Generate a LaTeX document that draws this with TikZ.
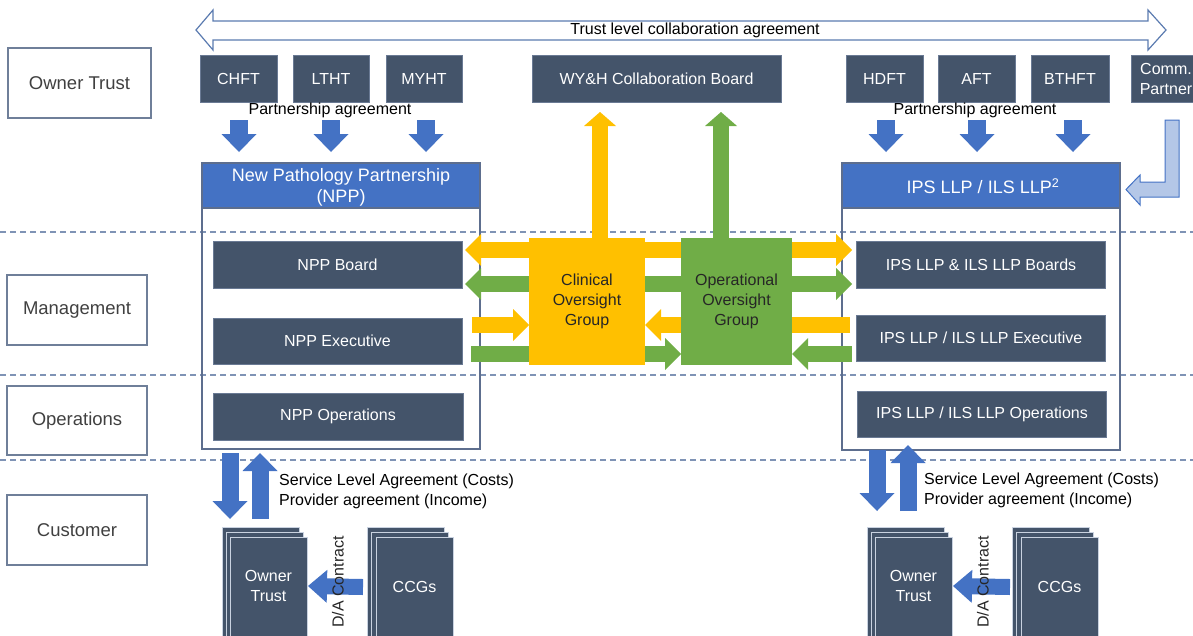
\documentclass[tikz,border=0pt]{standalone}
\usepackage{fontspec}
\setmainfont{Liberation Sans}
\usetikzlibrary{arrows.meta}
\definecolor{slate}{HTML}{44546A}
\definecolor{slateedge}{HTML}{6A7A94}
\definecolor{bluec}{HTML}{4472C4}
\definecolor{yellowc}{HTML}{FFC000}
\definecolor{greenc}{HTML}{70AD47}
\definecolor{lightb}{HTML}{B4C7E7}
\definecolor{dashc}{HTML}{7F93B5}
\definecolor{lblborder}{HTML}{6F7F99}
\definecolor{lbltext}{HTML}{404040}
\definecolor{contc}{HTML}{5D6E8E}
\definecolor{harrow}{HTML}{5B7BB0}
\definecolor{darktext}{HTML}{262626}
\definecolor{stackedge}{HTML}{C9D2E0}
\begin{document}
\begin{tikzpicture}[x=1pt,y=-1pt,font=\fontsize{16}{19}\selectfont,
  htip/.tip={Triangle[width=32pt,length=16pt,line width=0pt]},
  vtip/.tip={Triangle[width=32pt,length=14pt,line width=0pt]},
  btip/.tip={Triangle[width=35pt,length=18pt,line width=0pt]},
  ctip/.tip={Triangle[width=33pt,length=19pt,line width=0pt]},
  dbox/.style={rectangle,fill=slate,draw=slateedge,line width=0.6pt,text=white,inner sep=0pt,align=center},
  lbox/.style={rectangle,draw=lblborder,line width=1.2pt,text=lbltext,inner sep=0pt,font=\fontsize{18.5}{21}\selectfont},
  cont/.style={draw=contc,line width=1.2pt},
  hdr/.style={rectangle,fill=bluec,draw=contc,line width=1.2pt,inner sep=0pt},
  hdrtext/.style={inner sep=0pt,text=white,align=center,font=\fontsize{18}{21}\selectfont},
  dashline/.style={draw=dashc,line width=1.5pt,dash pattern=on 6pt off 4pt},
  yarr/.style={draw=yellowc,line width=16pt},
  garr/.style={draw=greenc,line width=16pt},
  barr/.style={draw=bluec,line width=18pt,-btip},
  bvarr/.style={draw=bluec,line width=17pt},
  ogrp/.style={rectangle,inner sep=0pt,align=center,text=darktext},
  page/.style={fill=slate,draw=stackedge,line width=0.7pt},
  plain/.style={inner sep=0pt,text=black}]
\useasboundingbox (0,0) rectangle (1193,635);

% dashed separators
\coordinate (d1l) at (0,232); \coordinate (d1r) at (1193,232);
\coordinate (d2l) at (0,375); \coordinate (d2r) at (1193,375);
\coordinate (d3l) at (0,460); \coordinate (d3r) at (1193,460);
\draw[dashline] (d1l) -- (d1r);
\draw[dashline] (d2l) -- (d2r);
\draw[dashline] (d3l) -- (d3r);

% left labels
\node[lbox,minimum width=143pt,minimum height=70pt] (lot) at (79.5,83) {Owner Trust};
\node[lbox,minimum width=140pt,minimum height=70pt] (lmg) at (77,310) {Management};
\node[lbox,minimum width=140pt,minimum height=69pt] (lop) at (77,420.5) {Operations};
\node[lbox,minimum width=140pt,minimum height=70pt] (lcu) at (77,530) {Customer};

% top hollow double arrow
\draw[draw=harrow,fill=white,line width=1.2pt] (196,30) -- (213,10) -- (213,21) -- (1148,21) -- (1148,10) -- (1166,30) -- (1148,50) -- (1148,40) -- (213,40) -- (213,50) -- cycle;
\node[plain] (tlca) at (695,30) {Trust level collaboration agreement};

% top row boxes
\node[dbox,minimum width=77pt,minimum height=47pt] (chft) at (238.5,78.5) {CHFT};
\node[dbox,minimum width=76pt,minimum height=47pt] (ltht) at (331,78.5) {LTHT};
\node[dbox,minimum width=76pt,minimum height=47pt] (myht) at (424,78.5) {MYHT};
\node[dbox,minimum width=249pt,minimum height=47pt] (wyh) at (656.5,78.5) {WY\&H Collaboration Board};
\node[dbox,minimum width=77pt,minimum height=47pt] (hdft) at (884.5,78.5) {HDFT};
\node[dbox,minimum width=77pt,minimum height=47pt] (aft) at (976.5,78.5) {AFT};
\node[dbox,minimum width=78pt,minimum height=47pt] (bthft) at (1070,78.5) {BTHFT};
\node[dbox,minimum width=70pt,minimum height=47pt,font=\fontsize{16}{20}\selectfont] (comm) at (1166,78.5) {Comm.\\Partner};

\node[plain] (pa1) at (330,110) {Partnership agreement};
\node[plain] (pa2) at (975,110) {Partnership agreement};

% containers
\draw[cont] (202,163) rectangle (480,449);
\node[hdr,minimum width=278pt,minimum height=45pt] (npph) at (341,185.5) {};
\node[hdrtext] (nppt) at (341,187.5) {New Pathology Partnership\\(NPP)};
\draw[cont] (842,163) rectangle (1120,450);
\node[hdr,minimum width=278pt,minimum height=45pt] (ipsh) at (981,185.5) {};
\node[hdrtext] (ipst) at (983,186.5) {IPS LLP / ILS LLP\textsuperscript{2}};

\node[dbox,minimum width=249pt,minimum height=47pt] (nppb) at (337.5,264.5) {NPP Board};
\node[dbox,minimum width=249pt,minimum height=46pt] (nppe) at (337.5,341) {NPP Executive};
\node[dbox,minimum width=250pt,minimum height=47pt] (nppo) at (338,416.5) {NPP Operations};
\node[dbox,minimum width=249pt,minimum height=47pt] (ipsb) at (981,264.5) {IPS LLP \& ILS LLP Boards};
\node[dbox,minimum width=249pt,minimum height=46pt] (ipse) at (981,338) {IPS LLP / ILS LLP Executive};
\node[dbox,minimum width=249pt,minimum height=46pt] (ipso) at (982,414) {IPS LLP / ILS LLP Operations};

% partnership down arrows
\foreach \x/\n in {239/a,331/b,426/c,886/d,977/e,1073/f}{
  \coordinate (pt\n) at (\x,120); \coordinate (pb\n) at (\x,152);
  \draw[barr] (pt\n) -- (pb\n);
}

% comm partner arrow
\draw[draw=bluec,fill=lightb,line width=1pt] (1165,120) -- (1179,120) -- (1179,197) -- (1140,197) -- (1140,205) -- (1126,189.5) -- (1140,175) -- (1140,182) -- (1165,182) -- cycle;

% oversight arrows
\coordinate (yb) at (600,240); \coordinate (yt) at (600,112);
\coordinate (gb) at (721,240); \coordinate (gt) at (721,112);
\draw[yarr,-vtip] (yb) -- (yt);
\draw[garr,-vtip] (gb) -- (gt);

\coordinate (r1l) at (465,250); \coordinate (r1r) at (852,250);
\coordinate (r2l) at (465,284); \coordinate (r2r) at (852,284);
\draw[yarr,htip-htip] (r1l) -- (r1r);
\draw[garr,htip-htip] (r2l) -- (r2r);
\coordinate (r3a) at (472,325); \coordinate (r3b) at (529,325);
\coordinate (r3c) at (850,325); \coordinate (r3d) at (645,325);
\draw[yarr,-htip] (r3a) -- (r3b);
\draw[yarr,-htip] (r3c) -- (r3d);
\coordinate (r4a) at (471,354); \coordinate (r4b) at (681,354);
\coordinate (r4c) at (852,354); \coordinate (r4d) at (792,354);
\draw[garr,-htip] (r4a) -- (r4b);
\draw[garr,-htip] (r4c) -- (r4d);

\node[ogrp,fill=yellowc,minimum width=116pt,minimum height=127pt,font=\fontsize{16}{20}\selectfont] (cog) at (587,301.5) {Clinical\\Oversight\\Group};
\node[ogrp,fill=greenc,minimum width=111pt,minimum height=127pt,font=\fontsize{16}{20}\selectfont] (oog) at (736.5,301.5) {Operational\\Oversight\\Group};

% bottom service arrows
\coordinate (lda) at (230,453); \coordinate (ldb) at (230,519);
\coordinate (lua) at (260,519); \coordinate (lub) at (260,453);
\coordinate (rda) at (877,450); \coordinate (rdb) at (877,511);
\coordinate (rua) at (908,511); \coordinate (rub) at (908,445);
\draw[bvarr,-btip] (lda) -- (ldb);
\draw[bvarr,-btip] (lua) -- (lub);
\draw[bvarr,-btip] (rda) -- (rdb);
\draw[bvarr,-btip] (rua) -- (rub);
\node[plain,anchor=west,align=left,font=\fontsize{16}{20}\selectfont] (sl1) at (279,491) {Service Level Agreement (Costs)\\Provider agreement (Income)};
\node[plain,anchor=west,align=left,font=\fontsize{16}{20}\selectfont] (sl2) at (924,490) {Service Level Agreement (Costs)\\Provider agreement (Income)};

% stacks
\foreach \x/\y in {222/527,226/532,230/537}{\draw[page] (\x,\y) rectangle ++(77,110);}
\foreach \x/\y in {367/527,371.5/532,376/537}{\draw[page] (\x,\y) rectangle ++(77,110);}
\foreach \x/\y in {867/527,871/532,875/537}{\draw[page] (\x,\y) rectangle ++(77,110);}
\foreach \x/\y in {1012/527,1016.5/532,1021/537}{\draw[page] (\x,\y) rectangle ++(77,110);}
\node[plain,text=white,align=center,font=\fontsize{16}{20}\selectfont] (ot1) at (268.5,586) {Owner\\Trust};
\node[plain,text=white] (ccg1) at (414.5,587) {CCGs};
\node[plain,text=white,align=center,font=\fontsize{16}{20}\selectfont] (ot2) at (913.5,586) {Owner\\Trust};
\node[plain,text=white] (ccg2) at (1059.5,587) {CCGs};

\draw[draw=bluec,line width=16pt,-ctip] (ccg1.west -| 363,0) -- (ot1.east -| 308,0);
\draw[draw=bluec,line width=16pt,-ctip] (ccg2.west -| 1010,0) -- (ot2.east -| 953,0);
\node[plain,rotate=90,text=darktext] (da1) at (338,582) {D/A Contract};
\node[plain,rotate=90,text=darktext] (da2) at (983,582) {D/A Contract};
\end{tikzpicture}
\end{document}
